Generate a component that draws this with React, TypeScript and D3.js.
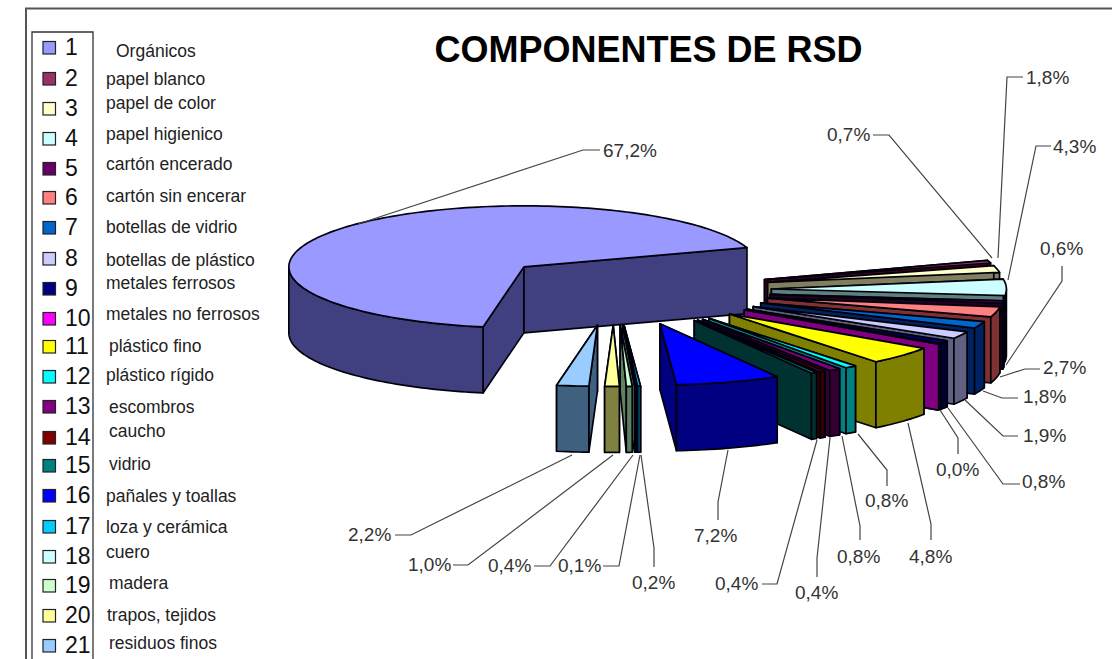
import React from "react";
import * as d3 from "d3";

const title = "COMPONENTES DE RSD";
const legendNumbers = ["1","2","3","4","5","6","7","8","9","10","11","12","13","14","15","16","17","18","19","20","21"];
const categories = ["Orgánicos","papel blanco","papel de color","papel higienico","cartón encerado","cartón sin encerar","botellas de vidrio","botellas de plástico","metales ferrosos","metales no ferrosos","plástico fino","plástico rígido","escombros","caucho","vidrio","pañales y toallas","loza y cerámica","cuero","madera","trapos, tejidos","residuos finos"];
const values = [67.2,0.7,1.8,4.3,0.6,2.7,1.8,1.9,0.8,0.0,4.8,0.8,0.8,0.4,0.4,7.2,0.2,0.1,0.4,1.0,2.2];
const valueLabels = ["67,2%","0,7%","1,8%","4,3%","0,6%","2,7%","1,8%","1,9%","0,8%","0,0%","4,8%","0,8%","0,8%","0,4%","0,4%","7,2%","0,2%","0,1%","0,4%","1,0%","2,2%"];
const colors = ["#9999FF","#993366","#FFFFCC","#CCFFFF","#660066","#FF8080","#0066CC","#CCCCFF","#000080","#FF00FF","#FFFF00","#00FFFF","#800080","#800000","#008080","#0000FF","#00CCFF","#CCFFFF","#CCFFCC","#FFFF99","#99CCFF"];

// layout
const numberY = [47,78,108,138,168,197,227,258,288,318,346,376,406,437,465,495,526,556,585,615,645];
const textPos: [number, number][] = [[116,51],[106,79],[106,103],[106,134],[106,164],[106,196],[106,227],[106,260],[106,283],[106,314],[109,346],[106,375],[109,407],[109,431],[109,464],[106,496],[106,527],[106,552],[109,583],[107,615],[109,643]];
// label anchor (text left, text centre y) and leader polyline for each slice
const labelPos: [number, number][] = [[603,150],[827,134],[1026,77],[1053,146],[1040,248],[1043,367],[1023,396],[1023,435],[1022,481],[936,469],[909,556],[837,556],[865,500],[795,592],[715,583],[694,535],[632,582],[558,565],[488,565],[408,564],[348,534]];
const leaders: [number, number][][] = [
  [[600,150],[583,150],[358,224]],
  [[873,135],[889,135],[992,258]],
  [[1023,77],[1007,77],[998,258]],
  [[1051,146],[1036,146],[1008,280]],
  [[1062,266],[1062,281],[1006,365]],
  [[1040,369],[1025,369],[1000,377]],
  [[1018,398],[1002,398],[983,391]],
  [[1018,436],[1003,436],[965,400]],
  [[1020,484],[1003,484],[948,408]],
  [[958,454],[958,438],[940,410]],
  [[931,540],[931,524],[908,423]],
  [[860,540],[860,526],[842,436]],
  [[887,486],[887,470],[858,434]],
  [[817,577],[817,558],[830,438]],
  [[762,584],[777,584],[817,440]],
  [[718,520],[718,502],[728,450]],
  [[654,567],[654,548],[641,455]],
  [[603,566],[619,566],[640,455]],
  [[534,566],[550,566],[633,455]],
  [[453,565],[468,565],[613,455]],
  [[395,535],[411,535],[572,455]],
];

const CX = 614, CY = 290, RX = 235, RY = 61, H = 66, EXPLODE_Y = 0.58;
const EXPLODE_X_FIRST = 0.507, EXPLODE_X_REST = 0.67;
const START = (100 * Math.PI) / 180;
const sx = d3.scaleLinear().domain([-1, 1]).range([CX - RX, CX + RX]);
const sy = d3.scaleLinear().domain([-1, 1]).range([CY - RY, CY + RY]);
const shade = (v: number) => Math.max(0, 128 - (255 - v) * 0.627);
const darken = (c: string) => {
  const r = d3.rgb(c);
  return d3.rgb(shade(r.r), shade(r.g), shade(r.b)).formatHex();
};
const line = d3.line<[number, number]>().x((d) => d[0]).y((d) => d[1]);

const pieData = d3.pie<number>().value((d) => d).sort(null).startAngle(START).endAngle(START + 2 * Math.PI)(values);

function Slice({ d, i }: { d: d3.PieArcDatum<number>; i: number }) {
  const mid = (d.startAngle + d.endAngle) / 2;
  const ox = (i === 0 ? EXPLODE_X_FIRST : EXPLODE_X_REST) * Math.cos(mid), oy = EXPLODE_Y * Math.sin(mid);
  const pt = (t: number, dy = 0): [number, number] => [sx(ox + Math.cos(t)), sy(oy + Math.sin(t)) + dy];
  const apex = (dy = 0): [number, number] => [sx(ox), sy(oy) + dy];
  const arc = (a: number, b: number, dy = 0) => {
    const n = Math.max(1, Math.ceil(Math.abs(b - a) / 0.025));
    return d3.range(n + 1).map((k) => pt(a + ((b - a) * k) / n, dy));
  };
  const top = colors[i];
  const side = darken(top);
  const stroke = { stroke: "#05050c", strokeWidth: 1.7, strokeLinejoin: "round" as const };
  const cut = (t: number) => (
    <path d={line([apex(), pt(t), pt(t, H), apex(H)]) + "Z"} fill={side} {...stroke} />
  );
  const walls: [number, number][] = [];
  for (const k of [0, 1]) {
    const lo = Math.max(d.startAngle, k * 2 * Math.PI);
    const hi = Math.min(d.endAngle, k * 2 * Math.PI + Math.PI);
    if (hi > lo) walls.push([lo, hi]);
  }
  const frontFirst = mid % (2 * Math.PI) < Math.PI / 2;
  return (
    <g>
      {frontFirst ? cut(d.startAngle) : cut(d.endAngle)}
      {frontFirst ? cut(d.endAngle) : cut(d.startAngle)}
      {walls.map(([a, b], k) => (
        <path key={k} d={line([...arc(a, b), ...arc(b, a, H)]) + "Z"} fill={side} {...stroke} />
      ))}
      <path d={line([apex(), ...arc(d.startAngle, d.endAngle)]) + "Z"} fill={top} {...stroke} />
    </g>
  );
}

export default function App() {
  const sans = "'Liberation Sans', Arial, sans-serif";
  return (
    <svg width={1112} height={659} style={{ position: "absolute", left: 0, top: 0, display: "block", background: "#fff" }} fontFamily={sans}>
      <defs>
        <filter id="soft" x="-5%" y="-5%" width="110%" height="110%">
          <feGaussianBlur stdDeviation="0.45" />
        </filter>
      </defs>
      <path d="M26,670V8.5H1120" fill="none" stroke="#555" strokeWidth={2} />
      <path d="M32,670V32H93V670" fill="#fff" stroke="#333" strokeWidth={1.3} />
      <text x={648.5} y={49} textAnchor="middle" dominantBaseline="central" fontSize={36} fontWeight={700} fill="#000">{title}</text>
      {categories.map((c, i) => (
        <g key={c}>
          <rect x={43} y={numberY[i] - 5.5} width={12.5} height={12.5} fill={colors[i]} stroke="#222" strokeWidth={1.2} />
          <text x={65} y={numberY[i]} dominantBaseline="central" fontSize={23} fill="#111">{legendNumbers[i]}</text>
          <text x={textPos[i][0]} y={textPos[i][1]} dominantBaseline="central" fontSize={17.5} fill="#222">{c}</text>
        </g>
      ))}
      <g filter="url(#soft)">
        {pieData.map((d, i) => <Slice key={i} d={d} i={i} />)}
      </g>
      {leaders.map((l, i) => (
        <path key={i} d={line(l) ?? ""} fill="none" stroke="#444" strokeWidth={1.2} />
      ))}
      {valueLabels.map((v, i) => (
        <text key={i} x={labelPos[i][0]} y={labelPos[i][1]} dominantBaseline="central" fontSize={19} fill="#333">{v}</text>
      ))}
    </svg>
  );
}
